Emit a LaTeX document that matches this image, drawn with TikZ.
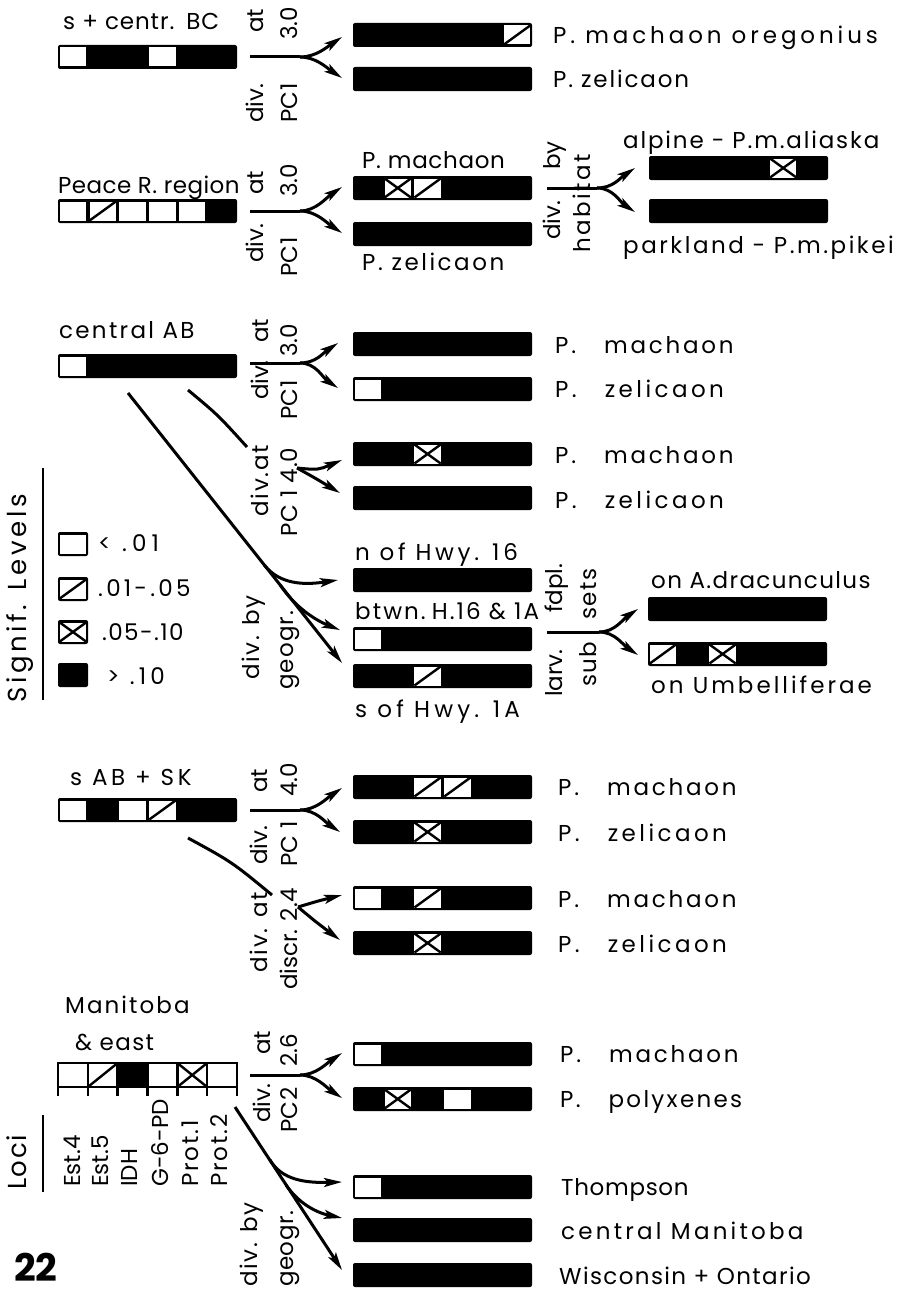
\documentclass[tikz,border=0pt]{standalone}
\usepackage{fontspec}
\setmainfont{Poppins}
\newfontfamily\numf{Poppins}
\usetikzlibrary{arrows.meta,calc}
\newcommand\mkbar[5][179]{%
  \node[barbox, minimum width=#1pt] (#2) at (#3,-#4) {};
  \foreach \cc [count=\ci from 0] in {#5}{%
    \pgfmathsetmacro\xa{#3+\ci*29.83+1.8}%
    \pgfmathsetmacro\xb{#3+(\ci+1)*29.83-1.8}%
    \pgfmathsetmacro\ya{-#4-2.5}%
    \pgfmathsetmacro\yb{-#4-21.5}%
    \if\cc B\relax\else
      \fill[white] (\xa,\ya) rectangle (\xb,\yb);
      \if\cc H\draw[diag] (\xa,\yb) -- (\xb,\ya);\fi
      \if\cc X\draw[diag] (\xa,\yb) -- (\xb,\ya) (\xa,\ya) -- (\xb,\yb);\fi
    \fi
  }%
}
\newcommand\fork[4]{%
  \draw[conn] (#1) -- (#2);
  \draw[arr] (#2) .. controls ($(#2)+(16,0)$) and ($(#3)+(-15,-10)$) .. (#3);
  \draw[arr] (#2) .. controls ($(#2)+(16,0)$) and ($(#4)+(-15,10)$) .. (#4);
}
\newcommand\Pn[1]{P.\hspace{28pt}#1}
\begin{document}
\begin{tikzpicture}[x=1pt,y=1pt,
  lab/.style={font=\fontsize{23}{27}\selectfont\addfontfeatures{LetterSpace=#1}, inner sep=0pt, anchor=base west},
  lab/.default=10,
  rlab/.style={font=\fontsize{23}{27}\selectfont\addfontfeatures{LetterSpace=#1}, inner sep=0pt, anchor=base west, rotate=90},
  rlab/.default=0,
  big/.style={font=\fontsize{26}{30}\selectfont\addfontfeatures{LetterSpace=#1}, inner sep=0pt, anchor=base west, rotate=90},
  big/.default=14,
  conn/.style={line width=3pt},
  arr/.style={conn, -{Stealth[length=18pt,width=9pt,inset=4pt]}},
  barbox/.style={fill=black, rounded corners=2pt, minimum height=24pt, inner sep=0pt, outer sep=0pt, anchor=north west},
  diag/.style={line width=2.4pt},
  ulrule/.style={line width=2.4pt}]
\useasboundingbox (0,0) rectangle (905,-1290);
\fill[white] (0,0) rectangle (905,-1290);

% ================= Group 1
\node[lab=4] (g1t) at (63,-30) {s + centr.\hspace{12pt}BC};
\mkbar{L1}{58}{45}{W,B,B,W,B,B}
\node[rlab] (g1r1) at (263,-33) {at};
\node[rlab] (g1r2) at (263,-123) {div.};
\node[rlab] (g1r3) at (297,-40) {3.0};
\node[rlab=2] (g1r4) at (297,-123) {PC1};
\coordinate (a1) at (250,-57); \coordinate (b1) at (300,-57);
\coordinate (u1) at (342,-37); \coordinate (d1) at (342,-78);
\fork{a1}{b1}{u1}{d1}
\mkbar{R1a}{353}{23}{B,B,B,B,B,H}
\mkbar{R1b}{353}{67}{B,B,B,B,B,B}
\node[lab=17] (g1a) at (553,-44) {P. machaon oregonius};
\node[lab=8] (g1b) at (553,-88) {P. zelicaon};

% ================= Group 2
\node[lab=2] (g2t) at (58,-193) {Peace R. region};
\mkbar{L2}{58}{199}{W,H,W,W,W,B}
\node[rlab] (g2r1) at (263,-195) {at};
\node[rlab] (g2r2) at (263,-263) {div.};
\node[rlab] (g2r3) at (297,-197) {3.0};
\node[rlab=2] (g2r4) at (297,-277) {PC1};
\coordinate (a2) at (250,-211); \coordinate (b2) at (300,-211);
\coordinate (u2) at (342,-187); \coordinate (d2) at (342,-233);
\fork{a2}{b2}{u2}{d2}
\mkbar{R2a}{353}{176}{B,X,H,B,B,B}
\mkbar{R2b}{353}{222}{B,B,B,B,B,B}
\node[lab=3] (g2a) at (362,-168) {P. machaon};
\node[lab=11] (g2b) at (362,-270) {P. zelicaon};
\node[rlab] (g2r5) at (560,-170) {by};
\node[rlab] (g2r6) at (560,-240) {div.};
\node[rlab=11] (g2r7) at (590,-253) {habitat};
\coordinate (a2h) at (547,-188); \coordinate (b2h) at (597,-188);
\coordinate (u2h) at (635,-168); \coordinate (d2h) at (635,-212);
\fork{a2h}{b2h}{u2h}{d2h}
\mkbar{RR2a}{649}{156}{B,B,B,B,X,B}
\mkbar{RR2b}{649}{199}{B,B,B,B,B,B}
\node[lab=8] (g2c) at (623,-148) {alpine - P.m.aliaska};
\node[lab=11] (g2d) at (623,-253) {parkland - P.m.pikei};

% ================= Group 3
\node[lab=10] (g3t) at (59,-338) {central AB};
\mkbar{L3}{58}{354}{W,B,B,B,B,B}
\node[rlab] (g3r1) at (268,-343) {at};
\node[rlab] (g3r2) at (268,-400) {div.};
\node[rlab] (g3r3) at (297,-357) {3.0};
\node[rlab=2] (g3r4) at (297,-420) {PC1};
\coordinate (a3) at (250,-363); \coordinate (b3) at (300,-363);
\coordinate (u3) at (338,-343); \coordinate (d3) at (338,-388);
\fork{a3}{b3}{u3}{d3}
\mkbar{R3a}{353}{332}{B,B,B,B,B,B}
\mkbar{R3b}{353}{377}{W,B,B,B,B,B}
\mkbar{R3c}{353}{442}{B,B,X,B,B,B}
\mkbar{R3d}{353}{486}{B,B,B,B,B,B}
\node[lab=12] (g3a) at (555,-353) {\Pn{machaon}};
\node[lab=15] (g3b) at (555,-397) {\Pn{zelicaon}};
\node[lab=12] (g3c) at (555,-463) {\Pn{machaon}};
\node[lab=15] (g3d) at (555,-508) {\Pn{zelicaon}};
% second split
\node[rlab=8] (g3r5) at (268,-517) {div.at};
\node[rlab=4] (g3r6) at (297,-537) {PC 1 4.0};
\coordinate (s3b) at (188,-390); \coordinate (e3b) at (247,-447);
\coordinate (b3b) at (297,-468);
\coordinate (u3b) at (342,-460); \coordinate (d3b) at (340,-493);
\draw[conn] (s3b) .. controls (218,-415) .. (e3b);
\draw[arr] (b3b) .. controls (318,-470) .. (u3b);
\draw[arr] (b3b) .. controls (315,-478) .. (d3b);
% geographic split
\coordinate (m3s) at (128,-393); \coordinate (m3e) at (342,-663);
\coordinate (m3p1) at (264.3,-565); \coordinate (m3t1) at (338,-580);
\coordinate (m3p2) at (280.2,-585); \coordinate (m3t2) at (340,-630);
\draw[arr] (m3s) -- (m3e);
\draw[arr] (m3p1) .. controls (280,-585) and (305,-585) .. (m3t1);
\draw[arr] (m3p2) .. controls (295,-607) and (315,-620) .. (m3t2);
\node[rlab=7] (g3r7) at (259,-680) {div. by};
\node[rlab=5] (g3r8) at (293,-690) {geogr.};
\node[lab=16] (g3n) at (355,-560) {n of Hwy. 16};
\mkbar{Rn}{353}{568}{B,B,B,B,B,B}
\node[lab=9] (g3bt) at (355,-619) {btwn.\hspace{6pt}H.16 \& 1A};
\mkbar{Rbt}{353}{627}{W,B,B,B,B,B}
\mkbar{Rs}{353}{664}{B,B,H,B,B,B}
\node[lab=18] (g3s) at (355,-717) {s of Hwy. 1A};
% larval foodplant
\node[rlab] (g3r9) at (562,-613) {fdpl.};
\node[rlab] (g3r10) at (562,-697) {larv.};
\node[rlab=7] (g3r11) at (596,-620) {sets};
\node[rlab=5] (g3r12) at (596,-687) {sub};
\coordinate (a3d) at (547,-632); \coordinate (b3d) at (599,-632);
\coordinate (u3d) at (638,-609); \coordinate (d3d) at (638,-655);
\fork{a3d}{b3d}{u3d}{d3d}
\node[lab=6] (g3e) at (651,-588) {on A.dracunculus};
\mkbar{RR3a}{648}{597}{B,B,B,B,B,B}
\mkbar{RR3b}{648}{642}{H,B,X,B,B,B}
\node[lab=13] (g3f) at (651,-693) {on Umbelliferae};

% ================= Legend
\node[big] (sig) at (27,-703) {Signif. Levels};
\draw[ulrule] (43,-468) -- (43,-700);
\mkbar[30]{lgW}{58}{532}{W}
\mkbar[30]{lgH}{58}{577}{H}
\mkbar[30]{lgX}{58}{620}{X}
\mkbar[30]{lgB}{58}{663}{B}
\node[lab=22] (lg1) at (98,-551) {< .01};
\node[lab=14] (lg2) at (98,-596) {.01-.05};
\node[lab=6] (lg3) at (102,-640) {.05-.10};
\node[lab=18] (lg4) at (107,-684) {> .10};

% ================= Group 4
\node[lab=16] (g4t) at (70,-785) {s AB + SK};
\mkbar{L4}{58}{798}{W,B,W,H,B,B}
\node[rlab] (g4r1) at (267,-793) {at};
\node[rlab] (g4r2) at (267,-865) {div.};
\node[rlab] (g4r3) at (297,-797) {4.0};
\node[rlab=2] (g4r4) at (297,-867) {PC 1};
\coordinate (a4) at (250,-810); \coordinate (b4) at (300,-810);
\coordinate (u4) at (342,-788); \coordinate (d4) at (340,-832);
\fork{a4}{b4}{u4}{d4}
\node[rlab=8] (g4r5) at (267,-973) {div. at};
\node[rlab] (g4r6) at (297,-990) {discr. 2.4};
\coordinate (s4b) at (188,-838); \coordinate (e4b) at (272,-895);
\coordinate (b4b) at (298,-907);
\coordinate (u4b) at (342,-895); \coordinate (d4b) at (340,-940);
\draw[conn] (s4b) .. controls (232,-862) .. (e4b);
\draw[arr] (b4b) .. controls (318,-901) .. (u4b);
\draw[arr] (b4b) .. controls (316,-922) .. (d4b);
\mkbar{R4a}{353}{775}{B,B,H,H,B,B}
\mkbar{R4b}{353}{820}{B,B,X,B,B,B}
\mkbar{R4c}{353}{886}{W,B,H,B,B,B}
\mkbar{R4d}{353}{931}{B,B,X,B,B,B}
\node[lab=12] (g4a) at (558,-795) {\Pn{machaon}};
\node[lab=15] (g4b) at (558,-841) {\Pn{zelicaon}};
\node[lab=12] (g4c) at (558,-907) {\Pn{machaon}};
\node[lab=15] (g4d) at (558,-952) {\Pn{zelicaon}};

% ================= Group 5
\node[lab=9] (g5t) at (65,-1013) {Manitoba};
\node[lab=6] (g5u) at (75,-1050) {\& east};
\node[anchor=north west, minimum width=179pt, minimum height=24pt, inner sep=0pt] (L5) at (58,-1063) {};
\fill (117.66,-1063) rectangle (147.49,-1087);
\draw[diag] (87.83,-1087) -- (117.66,-1063);
\draw[diag] (177.32,-1087) -- (207.15,-1063) (177.32,-1063) -- (207.15,-1087);
\draw[line width=2.6pt, line cap=rect] (58,-1063) -- (237,-1063) (58,-1087) -- (237,-1087);
\foreach \ci in {0,...,6} \draw[line width=2.6pt, line cap=rect] (58+\ci*29.83,-1063) -- (58+\ci*29.83,-1095);
\node[rlab] (g5r1) at (270,-1055) {at};
\node[rlab] (g5r2) at (270,-1123) {div.};
\node[rlab] (g5r3) at (297,-1067) {2.6};
\node[rlab=2] (g5r4) at (297,-1133) {PC2};
\coordinate (a5) at (250,-1075); \coordinate (b5) at (300,-1075);
\coordinate (u5) at (342,-1053); \coordinate (d5) at (342,-1098);
\fork{a5}{b5}{u5}{d5}
\mkbar{R5a}{353}{1042}{W,B,B,B,B,B}
\mkbar{R5b}{353}{1087}{B,X,B,W,B,B}
\node[lab=12] (g5a) at (560,-1062) {\Pn{machaon}};
\node[lab=10] (g5b) at (560,-1107) {\Pn{polyxenes}};
\coordinate (m5s) at (235,-1107); \coordinate (m5e) at (342,-1270);
\coordinate (m5p1) at (270,-1160); \coordinate (m5t1) at (342,-1182);
\coordinate (m5p2) at (286,-1185); \coordinate (m5t2) at (342,-1218);
\draw[arr] (m5s) -- (m5e);
\draw[arr] (m5p1) .. controls (282,-1180) and (305,-1183) .. (m5t1);
\draw[arr] (m5p2) .. controls (300,-1205) and (318,-1213) .. (m5t2);
\node[rlab=7] (g5r5) at (257,-1287) {div. by};
\node[rlab=2] (g5r6) at (293,-1287) {geogr.};
\mkbar{R5c}{353}{1175}{W,B,B,B,B,B}
\mkbar{R5d}{353}{1218}{B,B,B,B,B,B}
\mkbar{R5e}{353}{1263}{B,B,B,B,B,B}
\node[lab=3] (g5c) at (561,-1195) {Thompson};
\node[lab=14] (g5d) at (561,-1239) {central Manitoba};
\node[lab=6] (g5e) at (559,-1284) {Wisconsin + Ontario};
% loci
\node[big=6] (loci) at (27,-1190) {Loci};
\draw[ulrule] (43,-1115) -- (43,-1192);
\node[rlab] (lc1) at (80,-1187) {Est.4};
\node[rlab] (lc2) at (108,-1187) {Est.5};
\node[rlab] (lc3) at (137,-1187) {IDH};
\node[rlab] (lc4) at (168,-1187) {G-6-PD};
\node[rlab=8] (lc5) at (198,-1187) {Prot.1};
\node[rlab=8] (lc6) at (227,-1187) {Prot.2};
\node[font=\numf\bfseries\fontsize{38}{42}\selectfont, inner sep=0pt, anchor=base west] (num) at (14,-1281) {22};
\end{tikzpicture}
\end{document}
